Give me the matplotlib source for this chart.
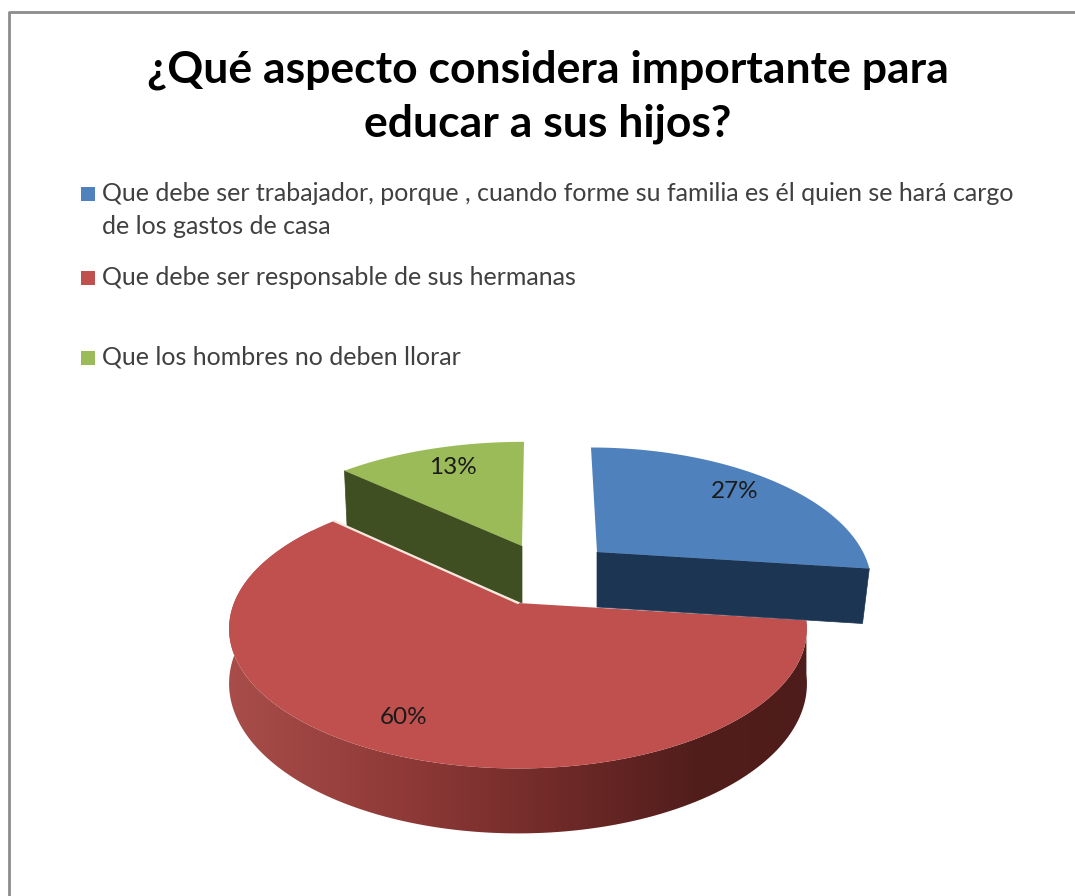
# -*- coding: utf-8 -*-
#%% libraries
import numpy as np
import matplotlib
matplotlib.use('Agg')
import matplotlib.pyplot as plt
from matplotlib.patches import Rectangle, Polygon
from matplotlib.colors import LinearSegmentedColormap

#%% data
title_text = '¿Qué aspecto considera importante para\neducar a sus hijos?'
categories = ['Que debe ser trabajador, porque , cuando forme su familia es él quien se hará cargo\nde los gastos de casa',
              'Que debe ser responsable de sus hermanas',
              'Que los hombres no deben llorar']
shares = [27, 60, 13]
top_colors = ['#4f81bd', '#c0504d', '#9bbb59']

#%% layout, everything in image pixels
W, H = 1075, 896
plt.rcParams['font.family'] = ['Lato', 'DejaVu Sans']
fig = plt.figure(figsize=(W / 100, H / 100), dpi=100)
ax = fig.add_axes([0, 0, 1, 1])
ax.set_xlim(0, W)
ax.set_ylim(H, 0)
ax.axis('off')

# only the top and left edges of the frame are inside the picture
ax.plot([8.5, 8.5, W], [H, 12, 12], color='#8c8c8c', lw=2)

ax.text(548, 97, title_text, ha='center', va='center', fontsize=32,
        fontweight='bold', color='black', linespacing=1.4)

legend_y = [194, 278, 358]
for cat, col, y in zip(categories, top_colors, legend_y):
    ax.add_patch(Rectangle((81, y - 7), 14, 14, fc=col, ec='none'))
    ax.text(102, y - 12, cat, ha='left', va='top', fontsize=18, color='#404040',
            linespacing=1.5)

#%% pie geometry: per slice centre, radii, perspective, depth
# order follows shares: blue, red, green
centres = [(597, 552), (518, 603), (522, 546)]
radius_x = [266, 284, 279]
radius_y = [128, 135, 125]
persp = [0.225, 0.184, 0.2]
shear = [6, 0, -2]
depth = [55, 53, 57]

# slice angles, clockwise from 12 o'clock, blue first then green going back
fracs = np.array(shares) / sum(shares)
blue_a = (90, 90 - 360 * fracs[0])
green_a = (90 + 360 * fracs[2], 90)
red_a = (blue_a[1], green_a[0] - 360)
angles = [blue_a, red_a, green_a]


def rim(i, theta_deg):
    t = np.radians(theta_deg)
    s = 1 + persp[i] * np.sin(t)
    x = centres[i][0] + radius_x[i] * np.cos(t) / s - shear[i] * np.sin(t)
    y = centres[i][1] - radius_y[i] * np.sin(t) / s
    return x, y


def top_face(i):
    t = np.linspace(angles[i][0], angles[i][1], 240)
    x, y = rim(i, t)
    ax.fill(np.r_[centres[i][0], x], np.r_[centres[i][1], y], fc=top_colors[i], ec='none')


def radial_face(i, theta, color, pinch=1.0):
    x, y = rim(i, theta)
    cx, cy = centres[i]
    d = depth[i]
    xb = cx + (x - cx) * pinch
    ax.fill([cx, x, xb, cx], [cy, y, y + d, cy + d], fc=color, ec=color, lw=0.5)


#%% draw
# green back slice
radial_face(2, green_a[0], '#3f4f22', pinch=0.985)
top_face(2)

# red: outer wall as one polygon, with the shading clipped into it
# the wall runs on behind the top face so its left end stays hidden
wall = np.linspace(-7.2, red_a[1], 420)
wall = wall[np.sin(np.radians(wall)) < 0.6]
wx, wy = rim(1, wall)
wd = depth[1] / (1 + persp[1] * np.sin(np.radians(wall)))
wall_xy = np.c_[np.r_[wx, wx[::-1]], np.r_[wy, (wy + wd)[::-1]]]
wall_patch = Polygon(wall_xy, closed=True, fc='none', ec='none')
ax.add_patch(wall_patch)
wall_cmap = LinearSegmentedColormap.from_list(
    'wall', [(0, '#a84d4a'), (0.3, '#8f3a38'), (0.55, '#722b29'), (0.8, '#521e1c'), (1, '#4e1c1a')])
grad = ax.imshow(np.linspace(0, 1, 256)[None, :], cmap=wall_cmap, aspect='auto',
                 extent=(wx.min() - 2, wx.max() + 2, wy.max() + 80, wy.min() - 2), zorder=1)
grad.set_clip_path(wall_patch)
ax.set_xlim(0, W)
ax.set_ylim(H, 0)
top_face(1)
for artist in ax.patches[-1:]:
    artist.set_zorder(2)
# pale seam along the red cut, next to the green wall
sx, sy = rim(1, green_a[0])
ax.plot([sx, centres[1][0]], [sy, centres[1][1]], color='#fbe9df', lw=1.6,
        solid_capstyle='round', zorder=2.1)

# blue slice sits in front of the red one
radial_face(0, blue_a[1], '#1c3553', pinch=0.975)
top_face(0)
for artist in ax.patches[-2:]:
    artist.set_zorder(3)

#%% percent labels
label_pos = [(735, 492), (404, 717), (453, 468)]
for val, (lx, ly) in zip(shares, label_pos):
    ax.text(lx, ly, f'{val}%', ha='center', va='center', fontsize=17.5, color='#1a1a1a', zorder=4)

fig.savefig('out.png', dpi=100, facecolor='white')
